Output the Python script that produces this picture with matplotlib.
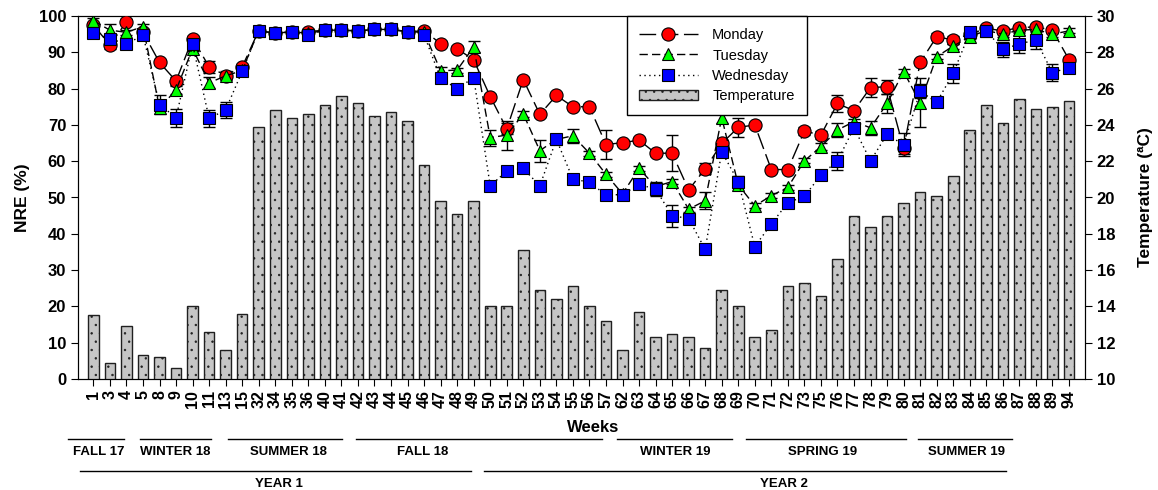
import matplotlib
matplotlib.use('Agg')
import matplotlib.pyplot as plt
from matplotlib.lines import Line2D
import numpy as np

plt.rcParams['font.family'] = ['Liberation Sans', 'DejaVu Sans']
plt.rcParams['hatch.linewidth'] = 0.5

weeks = [1, 3, 4, 5, 8, 9, 10, 11, 13, 15, 32, 34, 35, 36, 40, 41, 42, 43, 44, 45,
         46, 47, 48, 49, 50, 51, 52, 53, 54, 55, 56, 57, 62, 63, 64, 65, 66, 67, 68, 69,
         70, 71, 72, 73, 75, 76, 77, 78, 79, 80, 81, 82, 83, 84, 85, 86, 87, 88, 89, 94]

temperature = [13.5, 10.9, 12.9, 11.3, 11.2, 10.6, 14.0, 12.6, 11.6, 13.6,
               23.9, 24.8, 24.4, 24.6, 25.1, 25.6, 25.2, 24.5, 24.7, 24.2,
               21.8, 19.8, 19.1, 19.8, 14.0, 14.0, 17.1, 14.9, 14.4, 15.1,
               14.0, 13.2, 11.6, 13.7, 12.3, 12.5, 12.3, 11.7, 14.9, 14.0,
               12.3, 12.7, 15.1, 15.3, 14.6, 16.6, 19.0, 18.4, 19.0, 19.7,
               20.3, 20.1, 21.2, 23.7, 25.1, 24.1, 25.4, 24.9, 25.0, 25.3]

monday = [97.5, 92.0, 98.4, 95.5, 87.2, 82.1, 93.8, 86.0, 83.6, 86.0,
          96.0, 95.2, 95.7, 95.7, 96.1, 96.1, 95.9, 96.3, 96.3, 95.7,
          95.9, 92.4, 91.0, 87.9, 77.8, 68.9, 82.5, 72.9, 78.1, 75.0,
          75.0, 64.6, 65.1, 65.8, 62.2, 62.2, 52.1, 57.9, 64.9, 69.3,
          70.0, 57.7, 57.7, 68.3, 67.2, 75.9, 73.9, 80.3, 80.5, 63.5,
          87.2, 94.3, 93.4, 95.0, 96.6, 95.9, 96.8, 97.0, 96.1, 88.0]
monday_err = [0.7, 1.0, 0.7, 0.7, 0.7, 1.0, 0.7, 1.6, 1.2, 0.7,
              0.7, 0.7, 0.7, 0.7, 0.7, 0.7, 0.7, 0.7, 0.7, 0.7,
              0.7, 0.7, 0.7, 0.7, 0.7, 1.5, 0.7, 0.7, 0.7, 0.7,
              0.7, 4.0, 0.7, 0.7, 0.7, 5.0, 0.7, 1.5, 1.0, 2.5,
              0.7, 0.7, 0.7, 1.0, 1.0, 2.3, 0.7, 2.7, 2.0, 1.5,
              0.7, 1.0, 1.2, 0.7, 0.7, 0.7, 0.7, 0.7, 0.7, 0.7]

tuesday = [98.7, 96.1, 95.5, 97.1, 74.7, 79.6, 91.0, 81.6, 83.5, 85.0,
           96.0, 95.2, 95.7, 95.2, 96.1, 96.1, 95.9, 96.3, 96.3, 95.7,
           95.5, 84.9, 85.1, 91.5, 66.5, 67.2, 73.0, 62.9, 66.0, 67.0,
           62.2, 56.4, 51.0, 58.0, 53.0, 54.4, 46.8, 49.1, 72.0, 53.5,
           47.7, 50.5, 52.8, 60.1, 64.0, 68.6, 70.9, 69.2, 75.9, 84.7,
           76.1, 88.8, 91.7, 94.3, 96.0, 95.0, 96.1, 96.3, 95.0, 95.9]
tuesday_err = [0.7, 1.6, 0.7, 0.7, 0.7, 1.0, 0.7, 1.5, 0.7, 0.7,
               0.7, 0.7, 0.7, 0.7, 0.7, 0.7, 0.7, 0.7, 0.7, 0.7,
               0.7, 1.0, 0.7, 1.5, 2.2, 4.0, 0.7, 3.0, 0.7, 2.0,
               0.7, 0.7, 0.7, 0.7, 0.7, 0.7, 0.7, 2.3, 1.5, 0.7,
               0.7, 0.7, 0.7, 0.7, 1.0, 2.0, 0.7, 2.0, 2.5, 0.7,
               6.8, 0.7, 0.7, 0.7, 0.7, 0.7, 0.7, 0.7, 0.7, 0.7]

wednesday = [95.2, 93.8, 92.2, 94.8, 75.6, 72.0, 92.2, 71.8, 74.1, 84.8,
             96.0, 95.2, 95.7, 94.8, 96.1, 96.1, 95.9, 96.3, 96.3, 95.7,
             94.8, 82.8, 80.0, 83.0, 53.2, 57.3, 58.0, 53.2, 66.0, 55.1,
             54.2, 50.7, 50.8, 53.6, 52.3, 45.0, 44.2, 35.7, 62.6, 54.4,
             36.5, 42.7, 48.6, 50.3, 56.2, 60.1, 69.2, 60.1, 67.4, 64.5,
             79.3, 76.2, 84.2, 95.5, 95.9, 90.8, 92.3, 93.4, 84.4, 85.8]
wednesday_err = [0.7, 0.7, 0.7, 0.7, 2.6, 2.5, 0.7, 2.3, 2.2, 0.7,
                 0.7, 0.7, 0.7, 0.7, 0.7, 0.7, 0.7, 0.7, 0.7, 0.7,
                 0.7, 0.7, 0.7, 0.7, 0.7, 0.7, 0.7, 0.7, 0.7, 1.3,
                 0.7, 0.7, 0.7, 0.7, 2.0, 3.0, 0.7, 1.3, 0.7, 1.5,
                 0.7, 0.7, 0.7, 0.7, 0.7, 2.5, 0.7, 0.7, 0.7, 3.2,
                 2.0, 0.7, 2.6, 0.7, 0.7, 2.0, 2.5, 2.5, 2.3, 1.0]

seasons = ['FALL 17', 'WINTER 18', 'SUMMER 18', 'FALL 18', 'WINTER 19', 'SPRING 19', 'SUMMER 19']
years = ['YEAR 1', 'YEAR 2']

W, H = 1158, 490
fig = plt.figure(figsize=(W / 100, H / 100), dpi=100)
ax = fig.add_axes([78 / W, 1 - 379 / H, (1085 - 78) / W, (379 - 16) / H])
ax2 = ax.twinx()
ax.set_zorder(ax2.get_zorder() + 1)
ax.patch.set_visible(False)

x = np.arange(len(weeks))

bars = ax2.bar(x, temperature, width=0.64, bottom=0, color='#c6c6c6',
               edgecolor='#202020', linewidth=1.0, hatch='..')
ax2.set_ylim(10, 30)
ax2.set_yticks(np.arange(10, 31, 2))

series = [
    (monday, monday_err, 'o', '#ff0000', (0, (12, 4)), 'Monday'),
    (tuesday, tuesday_err, '^', '#00ff00', (0, (6, 3)), 'Tuesday'),
    (wednesday, wednesday_err, 's', '#0000ff', (0, (1, 2.5)), 'Wednesday'),
]
handles = []
for vals, err, mk, col, ls, name in series:
    ax.errorbar(x, vals, yerr=err, fmt='none', ecolor='black', elinewidth=1.0,
                capsize=4, capthick=1.0, zorder=2)
    ln, = ax.plot(x, vals, color='black', linestyle=ls, linewidth=1.0,
                  marker=mk, markersize=9 if mk != 'o' else 9.5,
                  markerfacecolor=col, markeredgecolor='black',
                  markeredgewidth=0.8, label=name, zorder=3)
    handles.append(ln)
handles.append(bars)

ax.set_ylim(0, 100)
ax.set_yticks(np.arange(0, 101, 10))
ax.set_xlim(-0.93, len(weeks) - 0.03)
ax.set_xticks(x)
ax.set_xticklabels([str(w) for w in weeks], rotation=90, fontsize=11.5, fontweight='bold')

for a in (ax, ax2):
    a.tick_params(axis='y', direction='out', length=5, labelsize=12)
    for lab in a.get_yticklabels():
        lab.set_fontweight('bold')
ax.tick_params(axis='x', direction='out', length=5, pad=3)

ax.set_ylabel('NRE (%)', fontsize=12.5, fontweight='bold', labelpad=6)
ax2.set_ylabel('Temperature (ªC)', fontsize=12.5, fontweight='bold', labelpad=16)

leg = ax.legend(handles, ['Monday', 'Tuesday', 'Wednesday', 'Temperature'],
                loc='upper left', bbox_to_anchor=(0.545, 1.0), borderaxespad=0,
                fancybox=False, edgecolor='black', framealpha=1, fontsize=10.5,
                handlelength=4.0, borderpad=0.85, labelspacing=0.42, handletextpad=1.0)
leg.get_frame().set_linewidth(1.0)

fig.text(593 / W, 1 - 427 / H, 'Weeks', ha='center', va='center',
         fontsize=12, fontweight='bold')

# season / year brackets below the axis (pixel layout)
season_spans = [(68, 124, 99), (140, 211, 175), (228, 342, 288), (356, 602, 423),
                (617, 732, 675), (746, 906, 823), (918, 1012, 967)]
for (x0, x1, xt), name in zip(season_spans, seasons):
    fig.add_artist(Line2D([x0 / W, x1 / W], [1 - 439 / H] * 2, color='black', linewidth=1.0))
    fig.text(xt / W, 1 - 452 / H, name, ha='center', va='center',
             fontsize=9.5, fontweight='bold')

year_spans = [(80, 471, 279), (484, 1006, 784)]
for (x0, x1, xt), name in zip(year_spans, years):
    fig.add_artist(Line2D([x0 / W, x1 / W], [1 - 471 / H] * 2, color='black', linewidth=1.0))
    fig.text(xt / W, 1 - 484 / H, name, ha='center', va='center',
             fontsize=9.5, fontweight='bold')

fig.savefig('out.png', dpi=100)
